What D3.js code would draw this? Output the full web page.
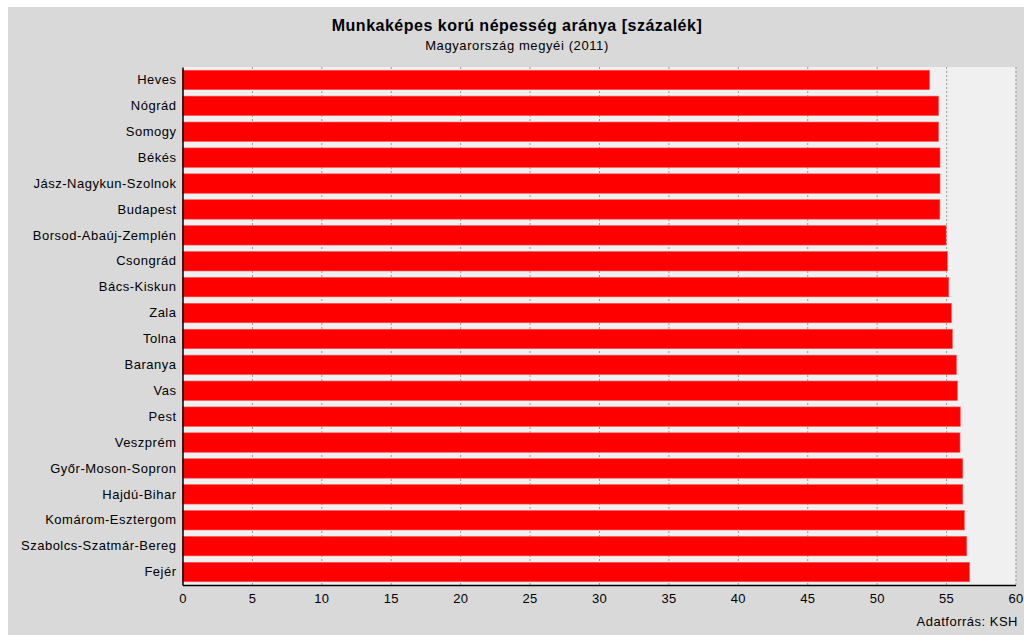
<!DOCTYPE html>
<html><head><meta charset="utf-8">
<script src="https://cdn.jsdelivr.net/npm/d3@7/dist/d3.min.js"></script>
<style>body{margin:0;background:#fff}svg{display:block}text{font-family:"Liberation Sans",Arial,sans-serif}</style>
</head><body><svg id="c" width="1024" height="635"></svg>
<script>
const categories = ["Heves","Nógrád","Somogy","Békés","Jász-Nagykun-Szolnok","Budapest","Borsod-Abaúj-Zemplén","Csongrád","Bács-Kiskun","Zala","Tolna","Baranya","Vas","Pest","Veszprém","Győr-Moson-Sopron","Hajdú-Bihar","Komárom-Esztergom","Szabolcs-Szatmár-Bereg","Fejér"];
const values = [53.8,54.45,54.45,54.56,54.56,54.55,55.0,55.09,55.19,55.38,55.45,55.74,55.81,56.02,56.0,56.2,56.2,56.31,56.48,56.68];
const xTicks = [0,5,10,15,20,25,30,35,40,45,50,55,60];
const title = "Munkaképes korú népesség aránya [százalék]";
const subtitle = "Magyarország megyéi (2011)";
const source = "Adatforrás: KSH";

const svg = d3.select("#c");
svg.append("rect").attr("x",8).attr("y",7).attr("width",1016).attr("height",628).attr("fill","#d9d9d9");
const L=182.5, R=1015.5, T=67, B=585;
const x = d3.scaleLinear().domain([0,60]).range([L,R]);
const y = d3.scaleBand().domain(categories).range([T,B]).paddingInner(0.25).paddingOuter(0.125);
svg.append("rect").attr("x",L).attr("y",T).attr("width",R-L).attr("height",B-T).attr("fill","#f0f0f0");
// grid
svg.append("g").selectAll("line").data(xTicks.filter(d=>d>0)).join("line")
  .attr("x1",d=>x(d)+0.5).attr("x2",d=>x(d)+0.5).attr("y1",T).attr("y2",B)
  .attr("stroke","#999").attr("stroke-width",1).attr("stroke-dasharray","2,2");
// bars
svg.append("g").selectAll("rect").data(values).join("rect")
  .attr("x",x(0)).attr("y",(d,i)=>y(categories[i])).attr("width",d=>x(d)-x(0)).attr("height",y.bandwidth())
  .attr("fill","#ff0000").attr("stroke","#ff5050").attr("stroke-width",0.6);
// axes
const xa = svg.append("g").attr("transform",`translate(0,${B})`).call(d3.axisBottom(x).tickValues(xTicks).tickSize(0).tickPadding(9));
xa.select(".domain").attr("stroke","#000").attr("stroke-width",1.5);
xa.selectAll("text").attr("font-size",13).attr("fill","#000").style("letter-spacing","0.3px").style("font-family","'Liberation Sans',Arial,sans-serif");
const ya = svg.append("g").attr("transform",`translate(${L},0)`).call(d3.axisLeft(y).tickSize(0).tickPadding(6));
ya.select(".domain").attr("stroke","#000").attr("stroke-width",1.5);
ya.selectAll("text").attr("font-size",13).attr("fill","#000").style("letter-spacing","0.5px").style("font-family","'Liberation Sans',Arial,sans-serif");
// texts
svg.append("text").attr("x",517).attr("y",31).attr("text-anchor","middle").attr("font-size",16).attr("font-weight","bold").style("letter-spacing","0.5px").text(title);
svg.append("text").attr("x",517).attr("y",50).attr("text-anchor","middle").attr("font-size",13).style("letter-spacing","0.6px").text(subtitle);
svg.append("text").attr("x",1018).attr("y",626).attr("text-anchor","end").attr("font-size",13).style("letter-spacing","0.5px").text(source);
</script></body></html>
